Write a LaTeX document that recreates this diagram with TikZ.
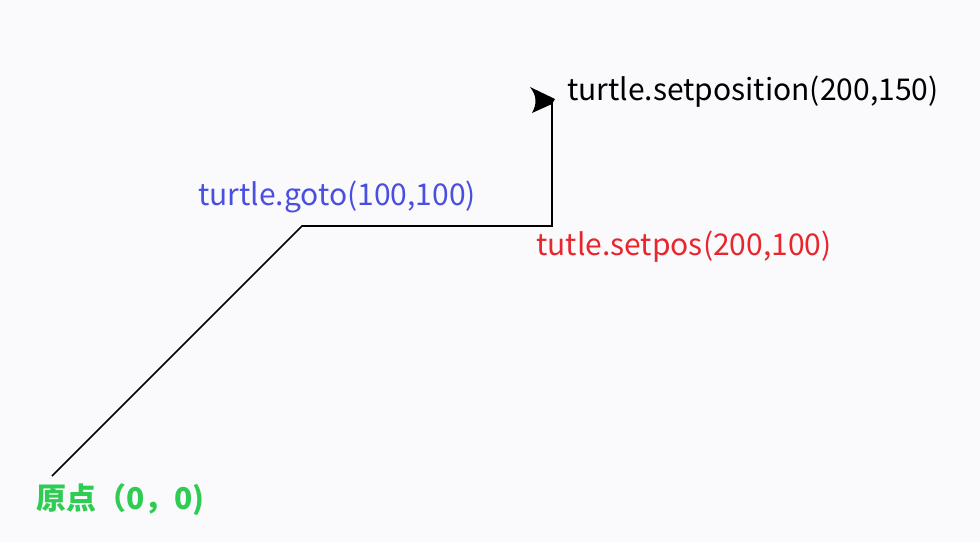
\documentclass[tikz,border=0pt]{standalone}
\usepackage{fontspec}
\setmainfont{Noto Sans CJK SC}
\definecolor{bgc}{HTML}{FAFAFC}
\definecolor{blu}{HTML}{4A4FE0}
\definecolor{rd}{HTML}{E8262E}
\definecolor{gr}{HTML}{2ECC52}
\tikzset{lbl/.style={inner sep=0pt,anchor=west,font=\fontsize{30}{34}\selectfont}}
\begin{document}
\begin{tikzpicture}[x=1pt,y=-1pt]
\fill[bgc] (0,0) rectangle (980,542);
\useasboundingbox (0,0) rectangle (980,542);
\coordinate (o) at (52,476);
\coordinate (a) at (302,226);
\coordinate (b) at (552,226);
\coordinate (c) at (552,101);
\draw[line width=1.6pt] (o) -- (a) -- (b) -- (c);
\fill (c) ++(3,-2) coordinate (tip) -- (530,87) .. controls (537,96) and (537,104) .. (532,113) -- (552,104) -- cycle;
\node[lbl] (t1) at (567,92) {turtle.setposition(200,150)};
\node[lbl,text=blu] (t2) at (198,197) {turtle.goto(100,100)};
\node[lbl,text=rd] (t3) at (536,247) {tutle.setpos(200,100)};
\node[lbl,text=gr,font=\fontsize{30}{34}\selectfont\bfseries] (t4) at (36,500) {原点（0，0)};
\end{tikzpicture}
\end{document}
